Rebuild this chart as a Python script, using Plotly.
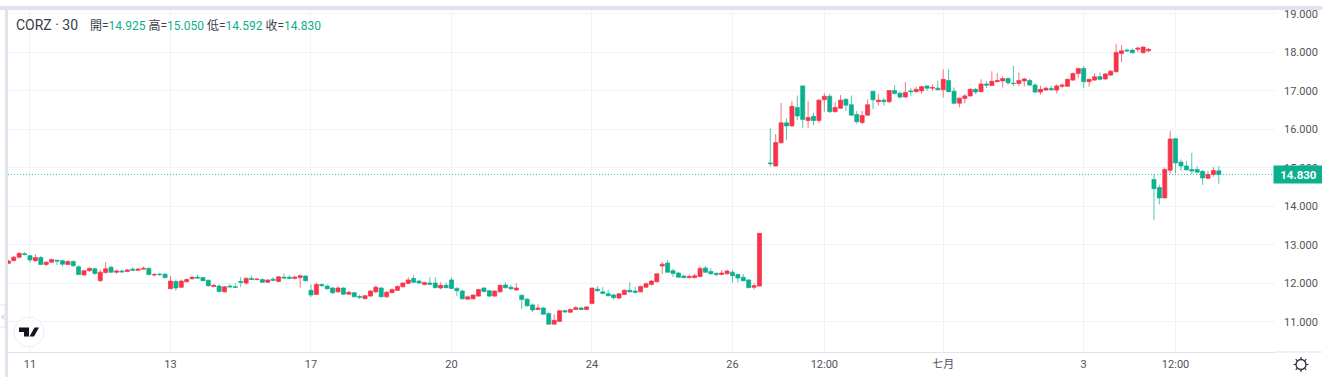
import plotly.graph_objects as go

# 30-minute bars. Index 140 -> 141 skips one empty slot.
opens = [
 12.52,12.59,12.68,12.77,12.72,12.59,12.67,12.49,12.55,12.60,
 12.59,12.49,12.57,12.43,12.22,12.33,12.38,12.07,12.28,12.42,
 12.29,12.32,12.31,12.37,12.34,12.37,12.39,12.22,12.24,12.24,
 11.86,12.05,11.90,12.04,12.12,12.16,12.15,12.08,11.92,11.93,
 11.78,11.93,11.91,12.05,12.01,12.13,12.10,12.10,12.03,12.11,
 12.05,12.16,12.16,12.13,12.15,12.19,11.82,11.71,11.97,11.93,
 11.88,11.78,11.88,11.72,11.76,11.66,11.60,11.67,11.78,11.88,
 11.65,11.76,11.82,11.91,12.00,12.13,12.06,11.97,12.01,12.01,
 11.88,11.95,12.09,11.87,11.80,11.59,11.60,11.67,11.88,11.81,
 11.67,11.78,11.96,11.90,11.83,11.69,11.59,11.44,11.32,11.36,
 11.22,10.94,11.01,11.29,11.25,11.32,11.36,11.32,11.48,11.85,
 11.78,11.73,11.70,11.62,11.71,11.82,11.80,11.78,11.90,11.97,
 12.04,12.45,12.53,12.33,12.27,12.19,12.15,12.15,12.18,12.40,
 12.31,12.26,12.23,12.25,12.29,12.23,12.16,12.09,11.90,11.93,
 15.13,15.05,15.65,16.17,16.09,16.57,17.13,16.23,16.34,16.23,
 16.77,16.86,16.46,16.55,16.78,16.64,16.39,16.18,16.37,16.99,
 16.72,16.76,16.72,17.01,16.94,16.84,17.00,16.98,17.00,17.13,
 17.07,17.07,17.03,17.27,16.99,16.68,16.80,16.87,17.04,16.98,
 17.18,17.14,17.24,17.26,17.32,17.20,17.19,17.26,17.27,17.15,
 16.97,17.02,17.06,17.02,17.12,17.12,17.28,17.45,17.58,17.24,
 17.28,17.37,17.31,17.41,17.50,17.97,18.06,18.06,18.08,17.99,
 18.04,14.70,14.49,14.22,14.94,15.76,15.15,15.05,14.96,14.96,
 14.91,14.73,14.83,14.925]
highs = [
 12.61,12.71,12.81,12.81,12.74,12.76,12.71,12.57,12.64,12.61,
 12.61,12.60,12.59,12.47,12.35,12.42,12.41,12.36,12.55,12.45,
 12.36,12.36,12.37,12.42,12.39,12.44,12.42,12.27,12.27,12.27,
 12.19,12.10,12.10,12.13,12.18,12.23,12.17,12.10,11.98,11.97,
 11.93,11.98,12.00,12.16,12.16,12.20,12.13,12.13,12.10,12.16,
 12.19,12.26,12.21,12.20,12.23,12.21,11.97,12.03,12.00,11.97,
 11.91,11.93,11.90,11.80,11.77,11.71,11.70,11.83,11.95,11.90,
 11.80,11.87,11.95,12.03,12.16,12.21,12.09,12.04,12.16,12.16,
 12.03,12.02,12.16,11.90,11.84,11.69,11.71,11.86,11.90,11.83,
 11.82,11.97,12.02,11.97,12.00,11.71,11.62,11.48,11.46,11.39,
 11.25,11.20,11.31,11.32,11.35,11.41,11.39,11.41,11.88,11.93,
 11.90,11.84,11.73,11.75,11.84,12.03,11.91,11.94,12.02,12.09,
 12.26,12.56,12.61,12.38,12.30,12.23,12.23,12.26,12.44,12.45,
 12.39,12.29,12.35,12.36,12.35,12.26,12.24,12.11,12.00,13.30,
 16.03,15.88,16.69,16.29,16.74,16.88,17.14,16.74,16.43,16.79,
 16.94,16.92,16.71,16.89,16.81,16.88,16.48,16.48,16.78,16.99,
 16.91,16.81,17.01,17.15,16.99,17.23,17.07,17.11,17.13,17.14,
 17.17,17.26,17.56,17.56,17.09,16.82,16.92,17.07,17.07,17.30,
 17.25,17.51,17.46,17.37,17.34,17.65,17.48,17.34,17.32,17.20,
 17.13,17.11,17.13,17.17,17.20,17.32,17.48,17.60,17.65,17.32,
 17.46,17.48,17.46,17.54,18.22,18.19,18.10,18.10,18.14,18.15,
 18.11,14.84,14.56,15.01,15.96,15.77,15.22,15.18,15.39,15.04,
 14.94,14.92,15.02,15.05]
lows = [
 12.50,12.58,12.65,12.73,12.54,12.56,12.48,12.44,12.53,12.48,
 12.43,12.48,12.43,12.22,12.20,12.30,12.22,12.04,12.25,12.27,
 12.25,12.28,12.29,12.32,12.32,12.36,12.21,12.18,12.19,12.13,
 11.86,11.81,11.88,12.03,12.10,12.12,12.05,11.91,11.90,11.77,
 11.76,11.90,11.88,11.90,11.97,12.09,12.08,12.01,12.01,12.06,
 12.03,12.12,12.11,12.10,11.89,12.05,11.64,11.71,11.92,11.84,
 11.72,11.76,11.70,11.70,11.64,11.59,11.59,11.65,11.75,11.65,
 11.63,11.74,11.80,11.90,11.98,12.00,11.99,11.95,11.95,11.87,
 11.85,11.87,11.86,11.67,11.58,11.58,11.58,11.65,11.77,11.65,
 11.65,11.77,11.86,11.84,11.81,11.33,11.39,11.26,11.31,11.19,
 10.94,10.94,11.00,11.25,11.24,11.31,11.31,11.31,11.46,11.79,
 11.72,11.66,11.58,11.59,11.70,11.76,11.74,11.77,11.89,11.95,
 12.03,12.24,12.28,12.16,12.15,12.13,12.13,12.13,12.16,12.28,
 12.23,12.18,12.22,12.23,12.02,12.02,12.05,11.87,11.84,11.93,
 15.03,15.03,15.64,15.72,16.07,16.24,16.04,16.04,16.11,16.16,
 16.46,16.43,16.44,16.54,16.48,16.36,16.15,16.13,16.36,16.53,
 16.62,16.62,16.68,16.91,16.80,16.82,16.87,16.96,16.92,17.00,
 17.00,17.02,16.83,16.96,16.65,16.57,16.68,16.85,16.92,16.96,
 17.07,17.13,17.22,17.09,17.16,17.13,17.13,17.11,17.13,16.95,
 16.90,17.00,17.01,16.93,17.07,17.10,17.26,17.34,17.07,17.11,
 17.26,17.27,17.29,17.39,17.48,17.75,18.01,17.97,18.01,17.97,
 18.00,13.64,14.05,14.21,14.84,14.86,14.93,14.93,14.84,14.86,
 14.56,14.72,14.77,14.592]
closes = [
 12.58,12.68,12.78,12.75,12.61,12.67,12.49,12.55,12.62,12.58,
 12.50,12.57,12.46,12.23,12.33,12.39,12.26,12.29,12.38,12.29,
 12.32,12.30,12.35,12.34,12.37,12.39,12.23,12.23,12.23,12.15,
 12.06,11.88,12.06,12.10,12.16,12.14,12.07,11.94,11.95,11.79,
 11.91,11.91,11.90,12.03,12.13,12.10,12.11,12.03,12.09,12.08,
 12.17,12.14,12.13,12.16,12.20,12.07,11.70,11.97,11.94,11.86,
 11.76,11.88,11.72,11.77,11.65,11.64,11.68,11.80,11.90,11.65,
 11.77,11.84,11.92,12.01,12.09,12.03,12.01,12.02,11.98,11.89,
 11.95,11.89,11.87,11.81,11.60,11.65,11.70,11.84,11.79,11.67,
 11.80,11.95,11.89,11.86,11.88,11.58,11.42,11.31,11.36,11.20,
 10.94,11.04,11.29,11.26,11.32,11.37,11.32,11.39,11.88,11.81,
 11.74,11.68,11.63,11.73,11.82,11.78,11.77,11.92,11.99,12.06,
 12.25,12.50,12.29,12.26,12.16,12.15,12.18,12.20,12.39,12.29,
 12.25,12.23,12.27,12.32,12.20,12.14,12.07,11.89,11.94,13.30,
 15.11,15.66,16.17,16.09,16.60,16.35,16.26,16.31,16.23,16.76,
 16.86,16.46,16.57,16.76,16.63,16.37,16.20,16.36,16.64,16.77,
 16.76,16.72,17.01,16.93,16.84,16.96,16.98,17.04,17.11,17.07,
 17.09,17.03,17.30,16.98,16.68,16.81,16.87,17.04,16.97,17.18,
 17.15,17.25,17.27,17.32,17.21,17.19,17.27,17.31,17.15,16.97,
 17.04,17.07,17.03,17.13,17.15,17.30,17.45,17.58,17.24,17.30,
 17.37,17.30,17.44,17.51,18.00,18.04,18.04,17.99,18.11,18.14,
 18.08,14.46,14.22,14.96,15.75,15.13,15.05,14.95,14.92,14.89,
 14.74,14.83,14.93,14.83]

slots = list(range(1, 141)) + list(range(142, 226))
tick_slots = [5, 31, 57, 83, 109, 135, 152, 174, 200, 217]
tick_labels = ["11", "13", "17", "20", "24", "26", "12:00", "七月", "3", "12:00"]
price_ticks = [11, 12, 13, 14, 15, 16, 17, 18, 19]
last_price = 14.83

UP, DOWN = "#f7344a", "#0caf8e"
UP_WICK, DOWN_WICK = "rgba(247,52,74,0.7)", "rgba(12,175,142,0.7)"
GRID, EDGE, TEXT = "#f2f3f7", "#e0e3eb", "#50535e"
FONT = "Roboto, 'Noto Sans CJK TC', sans-serif"

fig = go.Figure(go.Candlestick(
    x=slots, open=opens, high=highs, low=lows, close=closes,
    increasing=dict(line=dict(color=UP_WICK, width=1), fillcolor=UP),
    decreasing=dict(line=dict(color=DOWN_WICK, width=1), fillcolor=DOWN),
    whiskerwidth=0, showlegend=False, hoverinfo="skip",
))

g = lambda s: f'<span style="color:{DOWN}">{s}</span>'
ohlc_text = ("開=" + g("14.925") + " 高=" + g("15.050")
             + " 低=" + g("14.592") + " 收=" + g("14.830"))

px_x = lambda v: v / 1267  # plot-width pixels to paper
px_y = lambda v: v / 343   # plot-height pixels to paper

gear_teeth = " ".join(
    f"M {a} {b} L {c} {d}" for a, b, c, d in [
        (0, 5, 0, 7.5), (0, -5, 0, -7.5), (5, 0, 7.5, 0), (-5, 0, -7.5, 0),
        (3.6, 3.6, 5.3, 5.3), (-3.6, 3.6, -5.3, 5.3),
        (3.6, -3.6, 5.3, -5.3), (-3.6, -3.6, -5.3, -5.3)])

pixel_at = lambda ax, ay: dict(xref="paper", yref="paper", xsizemode="pixel",
                               ysizemode="pixel", xanchor=ax, yanchor=ay)

fig.update_layout(
    width=1322, height=388, autosize=False,
    margin=dict(l=8, r=47, t=9, b=36, autoexpand=False),
    paper_bgcolor="white", plot_bgcolor="white",
    boxgap=0.25, boxgroupgap=0, dragmode=False,
    font=dict(family=FONT, size=11, color=TEXT),
    xaxis=dict(range=[0.93, 235.4], rangeslider=dict(visible=False),
               tickmode="array", tickvals=tick_slots, ticktext=tick_labels,
               showgrid=True, gridcolor=GRID, gridwidth=1, zeroline=False,
               showline=True, linecolor=EDGE, linewidth=1, ticks="",
               tickfont=dict(size=11, color=TEXT), ticklabelstandoff=2),
    yaxis=dict(range=[10.218, 19.127], side="right",
               tickmode="array", tickvals=price_ticks, tickformat=".3f",
               showgrid=True, gridcolor=GRID, gridwidth=1, zeroline=False,
               showline=False, ticks="", tickfont=dict(size=11, color=TEXT),
               ticklabelstandoff=8),
    shapes=[
        dict(type="rect", xref="paper", yref="paper", x0=px_x(-8), x1=1 + px_x(47),
             y0=1 - px_y(1), y1=1 + px_y(3), fillcolor=EDGE, line_width=0),
        dict(type="rect", xref="paper", yref="paper", x0=px_x(-3), x1=0,
             y0=px_y(-25), y1=1 + px_y(3), fillcolor=EDGE, line_width=0),
        dict(type="rect", xref="paper", yref="paper", x0=px_x(-9), x1=px_x(-3),
             y0=px_y(25), y1=px_y(47), fillcolor="white",
             line=dict(color=EDGE, width=1)),
        dict(type="line", xref="paper", yref="paper", x0=1, x1=1 + px_x(47),
             y0=0, y1=0, line=dict(color=EDGE, width=1)),
        dict(type="line", xref="paper", yref="y", x0=0, x1=1,
             y0=last_price, y1=last_price,
             line=dict(color="rgba(12,175,142,0.8)", width=1, dash="1px,2px")),
        # TradingView badge
        dict(type="circle", **pixel_at(px_x(21), px_y(20)),
             x0=-15, x1=15, y0=-15, y1=15, fillcolor="white",
             line=dict(color="#eceef2", width=1)),
        dict(type="path", **pixel_at(px_x(21), px_y(20)),
             path="M -10 4.5 H 0 V -4.5 H -5 V 0 H -10 Z "
                  "M 1 2.5 A 2 2 0 1 1 5 2.5 A 2 2 0 1 1 1 2.5 Z "
                  "M 5.5 4.5 H 10 L 5 -4.5 H 0.5 Z",
             fillcolor="#131722", line_width=0),
        # settings gear
        dict(type="circle", **pixel_at(1 + px_x(26), px_y(-12.5)),
             x0=-5, x1=5, y0=-5, y1=5, fillcolor="white",
             line=dict(color="#2a2e39", width=1.3)),
        dict(type="path", **pixel_at(1 + px_x(26), px_y(-12.5)),
             path=gear_teeth, line=dict(color="#2a2e39", width=1.2)),
    ],
    annotations=[
        dict(text="CORZ · 30", xref="paper", yref="paper", x=px_x(6), y=1 - px_y(16),
             xanchor="left", yanchor="middle", showarrow=False,
             font=dict(family=FONT, size=14, color="#3a3d47")),
        dict(text=ohlc_text, xref="paper", yref="paper", x=px_x(80), y=1 - px_y(16),
             xanchor="left", yanchor="middle", showarrow=False, align="left",
             font=dict(family=FONT, size=12, color="#3a3d47")),
        dict(text="‹", xref="paper", yref="paper", x=px_x(-5.5), y=px_y(36),
             xanchor="center", yanchor="middle", showarrow=False,
             font=dict(family=FONT, size=11, color="#9fb0d0")),
        dict(text="<b>14.830</b>", xref="paper", yref="y", x=1, y=last_price,
             xanchor="left", xshift=-2, yanchor="middle", showarrow=False,
             width=49, height=17, bgcolor=DOWN, borderpad=0, align="center",
             font=dict(family=FONT, size=11.5, color="white")),
    ],
)

fig.write_html("out.html", post_script="document.body.style.margin='0';document.body.style.overflow='hidden';",
               config=dict(displayModeBar=False, staticPlot=True))
